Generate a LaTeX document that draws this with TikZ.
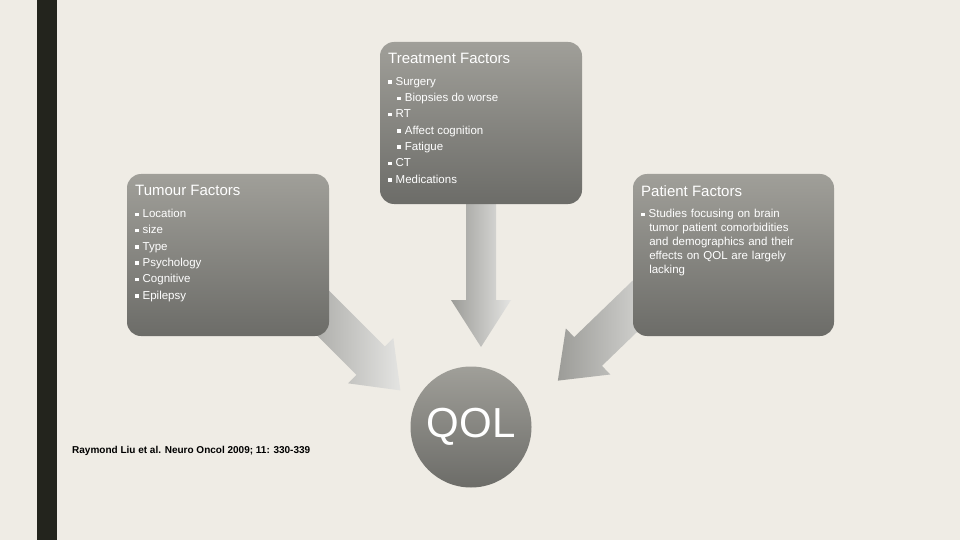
\documentclass[tikz,border=0pt]{standalone}
\usepackage{fontspec}
\setmainfont{Liberation Sans}
\newcommand{\bl}{\raisebox{0.25ex}{\rule{0.3em}{0.3em}}\hspace{0.35em}}
\begin{document}
\begin{tikzpicture}[x=1pt,y=-1pt,
 box/.style={rounded corners=14pt, top color=boxtop, bottom color=boxbot, draw=none},
 ttl/.style={anchor=north west, text=white, font=\fontsize{15}{17}\selectfont, inner sep=0},
 txt/.style={anchor=north west, text=white, font=\fontsize{11.5}{16.3}\selectfont, align=left, inner sep=0},
 barrow/.style={left color=arrA, right color=arrB, draw=none}]
\definecolor{bg}{HTML}{EFECE5}
\definecolor{boxtop}{HTML}{A09F99}
\definecolor{boxbot}{HTML}{6C6C68}
\definecolor{arrA}{HTML}{9C9C98}
\definecolor{arrB}{HTML}{E4E4E2}
\definecolor{darkbar}{HTML}{23241D}
\useasboundingbox (0,0) rectangle (960,540);
\fill[bg] (0,0) rectangle (960,540);
\fill[darkbar] (37,0) rectangle (57,540);
% arrows
\begin{scope}[shift={(481,204)},rotate=-90]
 \path[barrow] (0,-15)--(96,-15)--(96,-30)--(143,0)--(96,30)--(96,15)--(0,15)--cycle;
\end{scope}
\begin{scope}[shift={(300,290)},rotate=-45]
 \path[barrow] (0,-20)--(100,-20)--(100,-32)--(142,0)--(100,32)--(100,20)--(0,20)--cycle;
\end{scope}
\begin{scope}[shift={(660,282)},rotate=-136]
 \path[barrow] (0,-20)--(100,-20)--(100,-32)--(142,0)--(100,32)--(100,20)--(0,20)--cycle;
\end{scope}
% boxes
\path[box] (380,42) rectangle (582,204);
\path[box] (127,174) rectangle (329,336);
\path[box] (633,174) rectangle (834,336);
\node[ttl] (tt) at (388,53) {Treatment Factors};
\node[txt] (tb) at (388,77) {\bl Surgery\\\hspace{0.8em}\bl Biopsies do worse\\\bl RT\\\hspace{0.8em}\bl Affect cognition\\\hspace{0.8em}\bl Fatigue\\\bl CT\\\bl Medications};
\node[ttl] (mt) at (135,185) {Tumour Factors};
\node[txt] (mb) at (135,209) {\bl Location\\\bl size\\\bl Type\\\bl Psychology\\\bl Cognitive\\\bl Epilepsy};
\node[ttl] (pt) at (641,185) {Patient Factors};
\node[txt, text width=170pt, font=\fontsize{11.5}{14}\selectfont] (pb) at (641,209) {\bl Studies focusing on brain\\\hspace{0.7em}tumor patient comorbidities\\\hspace{0.7em}and demographics and their\\\hspace{0.7em}effects on QOL are largely\\\hspace{0.7em}lacking};
\node[circle, minimum size=121pt, inner sep=0, top color=boxtop, bottom color=boxbot, text=white, font=\fontsize{42}{44}\selectfont] (qol) at (471,427) {QOL};
\node[anchor=west, font=\bfseries\fontsize{10}{12}\selectfont, inner sep=0] (cite) at (72,451) {Raymond Liu et al. Neuro Oncol 2009; 11: 330-339};
\end{tikzpicture}
\end{document}
